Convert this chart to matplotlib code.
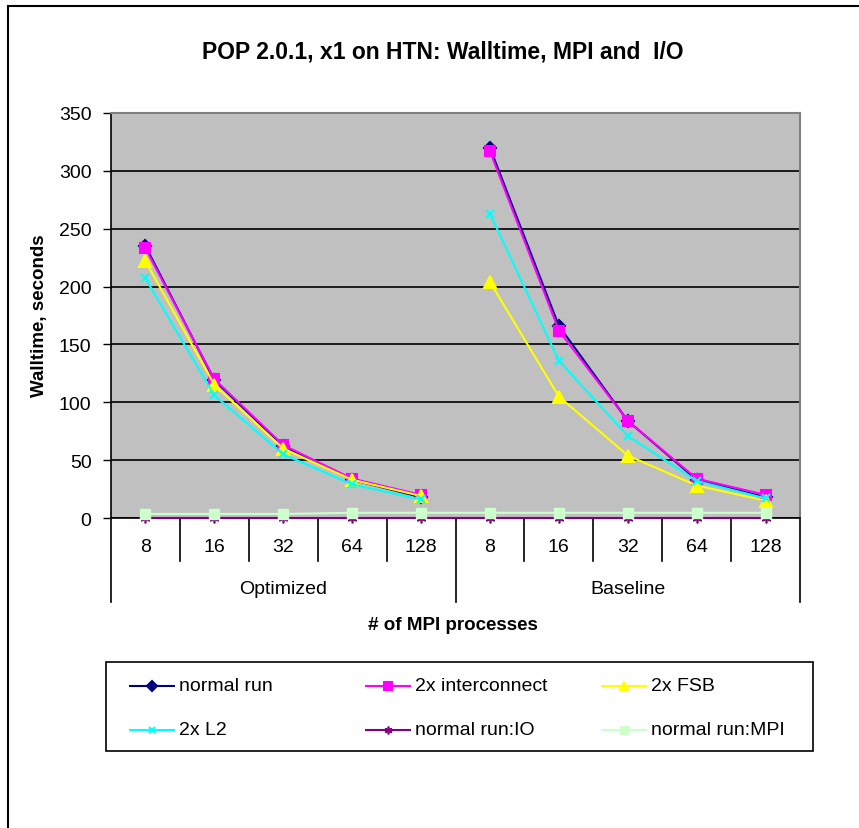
import matplotlib.pyplot as plt
import matplotlib.transforms as mtransforms
from matplotlib.lines import Line2D
from matplotlib.patches import Rectangle

plt.rcParams['font.family'] = ['Liberation Sans', 'DejaVu Sans']

procs = ["8", "16", "32", "64", "128"]
groups = ["Optimized", "Baseline"]

opt_normal = [235, 119, 62, 33, 18]
opt_inter = [233, 120, 63, 34, 20]
opt_fsb = [222, 115, 60, 33, 19]
opt_l2 = [207, 106, 55, 29, 16]

base_normal = [320, 166, 84, 33, 18]
base_inter = [317, 162, 84, 34, 20]
base_fsb = [204, 105, 54, 28, 15]
base_l2 = [263, 136, 71, 32, 17]

io_all = [0.3, 0.3, 0.3, 0.3, 0.3, 0.3, 0.3, 0.3, 0.3, 0.3]
mpi_all = [3.5, 3.5, 3.5, 4.5, 4.5, 4.5, 4.5, 4.5, 4.5, 4.5]

W, H = 859, 829
fig = plt.figure(figsize=(W / 100, H / 100), dpi=100)

# plot area in pixel coordinates
left, right, top, bottom = 111, 800, 114, 519
ax = fig.add_axes([left / W, (H - bottom) / H, (right - left) / W, (bottom - top) / H])
ax.set_facecolor('#C0C0C0')

asterisk = (6, 2, 0)
styles = [
    ("normal run", '#000080', 'D', 6),
    ("2x interconnect", '#FF00FF', 's', 7),
    ("2x FSB", '#FFFF00', '^', 8),
    ("2x L2", '#00FFFF', 'x', 6),
]
opt = [opt_normal, opt_inter, opt_fsb, opt_l2]
base = [base_normal, base_inter, base_fsb, base_l2]

x_opt = list(range(5))
x_base = list(range(5, 10))
x_all = list(range(10))

entries = []
for (name, col, mk, ms), yo, yb in zip(styles, opt, base):
    kw = dict(color=col, marker=mk, markersize=ms, lw=1.5, mew=1.5, zorder=3)
    ax.plot(x_opt, yo, clip_on=False, **kw)
    ax.plot(x_base, yb, clip_on=False, **kw)
    entries.append((name, kw))

kw = dict(color='#800080', marker=asterisk, markersize=7, lw=1.5, mew=1.2, zorder=3)
ax.plot(x_all, io_all, clip_on=False, **kw)
entries.append(("normal run:IO", kw))

kw = dict(color='#CCFFCC', marker='s', markersize=7, lw=1.5, zorder=3)
ax.plot(x_all, mpi_all, clip_on=False, **kw)
entries.append(("normal run:MPI", kw))

ax.set_xlim(-0.5, 9.5)
ax.set_ylim(0, 350)
ax.set_yticks(range(0, 351, 50))
ax.tick_params(axis='y', direction='out', length=6, width=1, labelsize=14, pad=8)
ax.set_xticks([])
ax.grid(axis='y', color='black', lw=1.2)
ax.set_axisbelow(True)
ax.spines['top'].set_color('#808080')
ax.spines['right'].set_color('#808080')
ax.spines['top'].set_linewidth(1.5)
ax.spines['right'].set_linewidth(1.5)
ax.spines['left'].set_linewidth(1.2)
ax.spines['bottom'].set_linewidth(1.2)

# two-level category axis
trans = mtransforms.blended_transform_factory(ax.transData, ax.transAxes)
px = 1.0 / (bottom - top)
for i in range(11):
    xb = i - 0.5
    depth = 84 if i in (0, 5, 10) else 43
    ax.add_line(Line2D([xb, xb], [0, -depth * px], transform=trans, color='black',
                       lw=1.2, clip_on=False))
for i in range(10):
    ax.text(i, -29 * px, procs[i % 5], transform=trans, ha='center', va='center', fontsize=14)
for g, name in enumerate(groups):
    ax.text(2 + 5 * g, -71 * px, name, transform=trans, ha='center', va='center', fontsize=14)

fig.text(453 / W, 1 - 626 / H, "# of MPI processes", ha='center', va='center',
         fontsize=13.5, fontweight='bold')
fig.text(40 / W, 1 - 316 / H, "Walltime, seconds", ha='center', va='center',
         rotation=90, fontsize=13.5, fontweight='bold')
fig.text(443 / W, 1 - 52 / H, "POP 2.0.1, x1 on HTN: Walltime, MPI and  I/O", ha='center',
         va='center', fontsize=16.5, fontweight='bold')

# legend: box plus entries laid out row by row
lx0, lx1, ly0, ly1 = 106, 813, 663, 752
fig.patches.append(Rectangle((lx0 / W, 1 - ly1 / H), (lx1 - lx0) / W, (ly1 - ly0) / H,
                             transform=fig.transFigure, fill=False, ec='black', lw=1.2))
col_x = [130, 366, 602]
row_y = [687, 731]
for k, (name, kw) in enumerate(entries):
    x0 = col_x[k % 3]
    y0 = 1 - row_y[k // 3] / H
    lkw = dict(kw)
    lkw['markersize'] = kw['markersize'] * 0.8
    fig.add_artist(Line2D([x0 / W, (x0 + 22) / W, (x0 + 44) / W], [y0, y0, y0],
                          transform=fig.transFigure, markevery=[1], **lkw))
    fig.text((x0 + 49) / W, y0, name, ha='left', va='center', fontsize=14)

# outer chart border (left and top edges)
fig.add_artist(Line2D([8 / W, 8 / W], [0, 1 - 7 / H], transform=fig.transFigure,
                      color='black', lw=1.5))
fig.add_artist(Line2D([8 / W, 1], [1 - 7 / H, 1 - 7 / H], transform=fig.transFigure,
                      color='black', lw=1.5))

fig.savefig('out.png', dpi=100)
